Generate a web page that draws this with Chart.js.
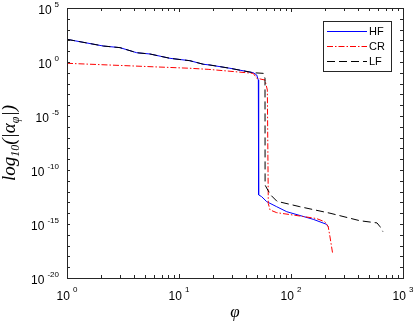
<!DOCTYPE html>
<html>
<head>
<meta charset="utf-8">
<script src="https://cdn.jsdelivr.net/npm/chart.js@4.4.1/dist/chart.umd.min.js"></script>
<style>
  html, body { margin: 0; padding: 0; background: #fff; }
  canvas { display: block; }
</style>
</head>
<body>
<canvas id="phiChart" width="415" height="328"></canvas>
<script>
// values (log-log axes)
const hfX = [1, 2.11, 2.97, 4.19, 5.51, 8.32, 12.5, 16.5, 18.9, 28.5, 46.0, 49.4, 51.1, 51.4, 54.7, 60.7, 74.5, 91.6, 158, 208, 215];
const hfY = [126, 30.2, 21.4, 7.24, 5.5, 2.19, 1.32, 0.617, 0.525, 0.263, 0.102, 0.063, 0.0214, 5.0e-13, 3.4e-13, 1.17e-13, 4.0e-14, 1.38e-14, 2.7e-15, 9.3e-16, 5.6e-16];

const crX = [1, 5.51, 12.5, 18.2, 24.9, 46.0, 49.4, 58.6, 61.5, 62.7, 65.0, 74.5, 120, 169, 201, 215, 223, 236];
const crY = [0.76, 0.37, 0.263, 0.209, 0.158, 0.089, 0.0316, 0.0214, 0.0025, 7.9e-14, 2.0e-14, 1.12e-14, 5.5e-15, 3.2e-15, 1.58e-15, 5.6e-16, 6.3e-17, 1.58e-18];

const lfX = [1, 2.11, 2.97, 4.19, 5.51, 8.32, 12.5, 16.5, 18.9, 28.5, 46.0, 56.6, 58.6, 58.7, 62.4, 67.1, 75, 120, 223, 413, 586, 624, 661];
const lfY = [126, 30.2, 21.4, 7.24, 5.5, 2.19, 1.32, 0.617, 0.525, 0.263, 0.102, 0.089, 0.0316, 4.0e-12, 1.26e-12, 4.0e-13, 1.26e-13, 4.0e-14, 1.0e-14, 2.0e-15, 1.26e-15, 5.6e-16, 2.0e-16];

const seriesNames = ['HF', 'CR', 'LF'];
const xExps = [0, 1, 2, 3];
const yExps = [5, 0, -5, -10, -15, -20];

function pts(xs, ys) {
    return xs.map((x, i) => ({ x: x, y: ys[i] }));
}

const axisColor = '#262626';

// Matlab-like box, inward ticks, 10^n labels, titles and legend
const matlabAxes = {
    id: 'matlabAxes',
    afterDraw(chart) {
        const ctx = chart.ctx;
        const a = chart.chartArea;
        const xs = chart.scales.x;
        const ys = chart.scales.y;
        ctx.save();
        ctx.strokeStyle = axisColor;
        ctx.lineWidth = 1;
        ctx.strokeRect(Math.round(a.left) + 0.5, Math.round(a.top) + 0.5,
            Math.round(a.right - a.left), Math.round(a.bottom - a.top));

        ctx.beginPath();
        // y ticks: every decade
        for (let e = -20; e <= 5; e++) {
            const py = Math.round(ys.getPixelForValue(Math.pow(10, e))) + 0.5;
            ctx.moveTo(a.left, py); ctx.lineTo(a.left + 3, py);
            ctx.moveTo(a.right, py); ctx.lineTo(a.right - 3, py);
        }
        // x ticks: decades plus 2..9
        for (let e = 0; e <= 3; e++) {
            for (let m = 1; m <= 9; m++) {
                const v = m * Math.pow(10, e);
                if (v > 1000) break;
                const px = Math.round(xs.getPixelForValue(v)) + 0.5;
                const len = m === 1 ? 4 : 3;
                ctx.moveTo(px, a.bottom); ctx.lineTo(px, a.bottom - len);
                ctx.moveTo(px, a.top); ctx.lineTo(px, a.top + len);
            }
        }
        ctx.stroke();

        const base = '12px "Liberation Sans", Arial, sans-serif';
        const sup = '8px "Liberation Sans", Arial, sans-serif';
        ctx.fillStyle = '#000';
        ctx.textBaseline = 'middle';

        // y tick labels
        yExps.forEach(e => {
            const py = ys.getPixelForValue(Math.pow(10, e));
            ctx.font = sup;
            const s = String(e);
            const sw = ctx.measureText(s).width;
            ctx.textAlign = 'right';
            ctx.fillText(s, 59, py - 3);
            ctx.font = base;
            ctx.fillText('10', 59 - sw - 3, py + 2.5);
        });

        // x tick labels
        xExps.forEach(e => {
            const px = xs.getPixelForValue(Math.pow(10, e));
            ctx.font = base;
            const w10 = ctx.measureText('10').width;
            ctx.font = sup;
            const s = String(e);
            const sw = ctx.measureText(s).width;
            const start = px - (w10 + 3 + sw) / 2;
            ctx.textAlign = 'left';
            ctx.font = base;
            ctx.fillText('10', start, 297);
            ctx.font = sup;
            ctx.fillText(s, start + w10 + 3, 290);
        });

        // y title: log10(|αφ|)
        const mainF = 'italic 19px "Liberation Serif", "DejaVu Serif", serif';
        const subF = 'italic 12px "Liberation Serif", "DejaVu Serif", serif';
        const parts = [['log', mainF, 0], ['10', subF, 4], ['(|α', mainF, 0], ['φ', subF, 4], ['|)', mainF, 0]];
        let total = 0;
        parts.forEach(p => { ctx.font = p[1]; total += ctx.measureText(p[0]).width; });
        ctx.save();
        ctx.translate(9, (a.top + a.bottom) / 2);
        ctx.rotate(-Math.PI / 2);
        ctx.textAlign = 'left';
        ctx.textBaseline = 'alphabetic';
        let cx = -total / 2;
        parts.forEach(p => {
            ctx.font = p[1];
            ctx.fillText(p[0], cx, 6 + p[2]);
            cx += ctx.measureText(p[0]).width;
        });
        ctx.restore();

        // x title
        ctx.font = 'italic 17px "Liberation Serif", "DejaVu Serif", serif';
        ctx.textAlign = 'center';
        ctx.textBaseline = 'middle';
        ctx.fillText('φ', (a.left + a.right) / 2, 313);

        // legend box
        const lx = 323, ly = 21, lw = 68, lh = 50;
        ctx.fillStyle = '#fff';
        ctx.fillRect(lx, ly, lw, lh);
        ctx.strokeStyle = axisColor;
        ctx.strokeRect(lx + 0.5, ly + 0.5, lw, lh);
        chart.data.datasets.forEach((ds, i) => {
            const yy = ly + 10 + i * 15;
            ctx.strokeStyle = ds.borderColor;
            ctx.lineWidth = 1;
            ctx.setLineDash(ds.borderDash || []);
            ctx.beginPath();
            ctx.moveTo(lx + 4, yy + 0.5);
            ctx.lineTo(lx + 44, yy + 0.5);
            ctx.stroke();
            ctx.setLineDash([]);
            ctx.fillStyle = '#000';
            ctx.font = '11px "Liberation Sans", Arial, sans-serif';
            ctx.textAlign = 'left';
            ctx.fillText(ds.label, lx + 46, yy + 1);
        });
        ctx.restore();
    }
};

new Chart(document.querySelector('#phiChart'), {
    type: 'line',
    data: {
        datasets: [
            {
                label: seriesNames[0],
                data: pts(hfX, hfY),
                borderColor: 'rgb(0, 0, 255)',
                borderWidth: 1,
                pointRadius: 0,
                tension: 0,
                fill: false,
                order: 2
            },
            {
                label: seriesNames[1],
                data: pts(crX, crY),
                borderColor: 'rgb(255, 0, 0)',
                borderWidth: 1,
                borderDash: [6, 2, 1.5, 2],
                pointRadius: 0,
                tension: 0,
                fill: false,
                order: 1
            },
            {
                label: seriesNames[2],
                data: pts(lfX, lfY),
                borderColor: 'rgb(0, 0, 0)',
                borderWidth: 1,
                borderDash: [8, 4],
                pointRadius: 0,
                tension: 0,
                fill: false,
                order: 0
            }
        ]
    },
    options: {
        responsive: false,
        animation: false,
        devicePixelRatio: 1,
        layout: { padding: { left: 67, right: 12, top: 8, bottom: 50 } },
        plugins: {
            legend: { display: false },
            tooltip: { enabled: false }
        },
        scales: {
            x: { type: 'logarithmic', min: 1, max: 1000, display: false },
            y: { type: 'logarithmic', min: 1e-20, max: 1e5, display: false }
        }
    },
    plugins: [matlabAxes]
});
</script>
</body>
</html>
